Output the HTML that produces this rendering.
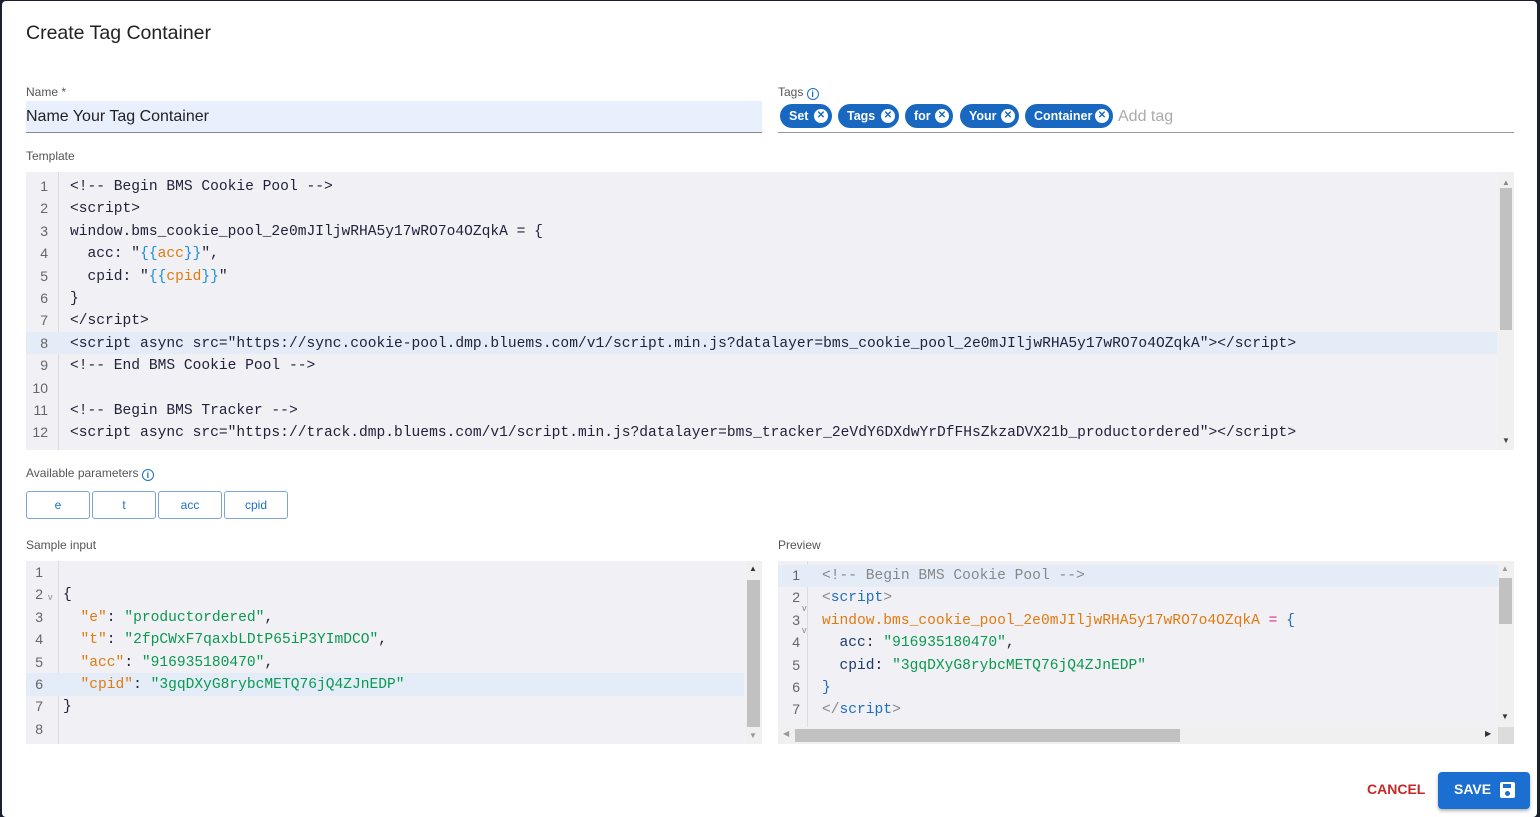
<!DOCTYPE html>
<html><head><meta charset="utf-8"><style>
*{box-sizing:border-box;margin:0;padding:0}
body{width:1540px;height:817px;background:#1b1f2e;position:relative;overflow:hidden;font-family:"Liberation Sans",Arial,sans-serif}
.dlg{position:absolute;left:2px;top:1px;width:1535px;height:816px;background:#fff;border-radius:4px}
.a{position:absolute}
.lbl{font-size:12px;color:#555}
.ed{position:absolute;background:#f0f0f5;overflow:hidden}
.gut{position:absolute;left:0;top:0;bottom:0;border-right:1px solid #dcdce2}
.ln{position:absolute;font-size:14px;color:#666;text-align:right}
.cl{position:absolute;font-family:"Liberation Mono",monospace;font-size:14.6px;white-space:pre;color:#22223a;line-height:22.4px}
.act{position:absolute;background:#e4ecf8}
.o{color:#e07b10}.b{color:#1a8fd6}.g{color:#0a9950}.gr{color:#888}.t{color:#1f6fbf}.p{color:#d63384}.n{color:#1d3b70}
.chip{position:absolute;top:104px;height:24px;background:#1867c0;border-radius:12px;color:#fff;font-size:12.5px;font-weight:bold;line-height:24px;padding-left:9px}
.chip i{position:absolute;right:4px;top:5px;width:14px;height:14px;border-radius:7px;background:#fff;color:#1867c0;font-style:normal;font-size:10px;line-height:14px;text-align:center}
.pb{position:absolute;top:491px;width:64px;height:28px;border:1px solid #7aa6d9;border-radius:3px;color:#1d6fc0;font-size:12px;text-align:center;line-height:26px}
.info{display:inline-block;width:12px;height:12px;border:1px solid #1d6fc0;border-radius:6px;color:#1d6fc0;font-size:9px;line-height:10px;text-align:center;vertical-align:-1px;font-weight:bold}
</style></head><body>
<div class="dlg"></div>
<div class="a" style="left:26px;top:22px;font-size:19.5px;color:#222">Create Tag Container</div>

<div class="a lbl" style="left:26px;top:85px">Name *</div>
<div class="a" style="left:26px;top:101px;width:736px;height:32px;background:#e8f0fe;border-bottom:1px solid #888"></div>
<div class="a" style="left:26px;top:108px;font-size:16px;color:#222">Name Your Tag Container</div>

<div class="a lbl" style="left:778px;top:85px">Tags <span class="info">i</span></div>
<div class="chip" style="left:780px;width:52px">Set<i>✕</i></div>
<div class="chip" style="left:838px;width:61px">Tags<i>✕</i></div>
<div class="chip" style="left:905px;width:48px">for<i>✕</i></div>
<div class="chip" style="left:960px;width:59px">Your<i>✕</i></div>
<div class="chip" style="left:1025px;width:88px">Container<i>✕</i></div>
<div class="a" style="left:1118px;top:108px;font-size:16px;color:#aaa">Add tag</div>
<div class="a" style="left:778px;top:132px;width:736px;height:1px;background:#999"></div>

<div class="a lbl" style="left:26px;top:149px">Template</div>
<div class="ed" style="left:26px;top:172px;width:1488px;height:278px">
 <div class="gut" style="width:33px"></div>
 <div class="act" style="left:0;top:160px;width:1471px;height:22px"></div>
 <div class="ln" style="left:0;width:22px;top:3px;line-height:22.4px">1<br>2<br>3<br>4<br>5<br>6<br>7<br>8<br>9<br>10<br>11<br>12</div>
 <div class="cl" style="left:44px;top:4px">&lt;!-- Begin BMS Cookie Pool --&gt;
&lt;script&gt;
window.bms_cookie_pool_2e0mJIljwRHA5y17wRO7o4OZqkA = {
  acc: "<span class="b">{{</span><span class="o">acc</span><span class="b">}}</span>",
  cpid: "<span class="b">{{</span><span class="o">cpid</span><span class="b">}}</span>"
}
&lt;/script&gt;
&lt;script async src="https://sync.cookie-pool.dmp.bluems.com/v1/script.min.js?datalayer=bms_cookie_pool_2e0mJIljwRHA5y17wRO7o4OZqkA"&gt;&lt;/script&gt;
&lt;!-- End BMS Cookie Pool --&gt;

&lt;!-- Begin BMS Tracker --&gt;
&lt;script async src="https://track.dmp.bluems.com/v1/script.min.js?datalayer=bms_tracker_2eVdY6DXdwYrDfFHsZkzaDVX21b_productordered"&gt;&lt;/script&gt;</div>
 <div class="a" style="left:1472px;top:0;width:16px;height:278px;background:#f0f0f0"></div>
 <div class="a" style="left:1474px;top:16px;width:12px;height:142px;background:#c1c1c1"></div>
 <div class="a" style="left:1476px;top:6px;font-size:8px;color:#888">▲</div>
 <div class="a" style="left:1476px;top:264px;font-size:8px;color:#444">▼</div>
</div>

<div class="a lbl" style="left:26px;top:466px">Available parameters <span class="info">i</span></div>
<div class="pb" style="left:26px">e</div>
<div class="pb" style="left:92px">t</div>
<div class="pb" style="left:158px">acc</div>
<div class="pb" style="left:224px">cpid</div>

<div class="a lbl" style="left:26px;top:538px">Sample input</div>
<div class="ed" style="left:26px;top:561px;width:736px;height:183px">
 <div class="gut" style="width:33px"></div>
 <div class="act" style="left:0;top:112px;width:718px;height:23px"></div>
 <div class="ln" style="left:0;width:17px;top:0px;line-height:22.4px">1<br>2<br>3<br>4<br>5<br>6<br>7<br>8</div>
 <div class="a" style="left:22px;top:31px;font-size:9px;color:#888">v</div>
 <div class="cl" style="left:37px;top:1px">
{
  <span class="o">"e"</span>: <span class="g">"productordered"</span>,
  <span class="o">"t"</span>: <span class="g">"2fpCWxF7qaxbLDtP65iP3YImDCO"</span>,
  <span class="o">"acc"</span>: <span class="g">"916935180470"</span>,
  <span class="o">"cpid"</span>: <span class="g">"3gqDXyG8rybcMETQ76jQ4ZJnEDP"</span>
}
</div>
 <div class="a" style="left:720px;top:0;width:16px;height:183px;background:#f0f0f0"></div>
 <div class="a" style="left:721px;top:19px;width:13px;height:147px;background:#c1c1c1"></div>
 <div class="a" style="left:723px;top:3px;font-size:8px;color:#333">▲</div>
 <div class="a" style="left:723px;top:170px;font-size:8px;color:#999">▼</div>
</div>

<div class="a lbl" style="left:778px;top:538px">Preview</div>
<div class="ed" style="left:778px;top:561px;width:736px;height:183px">
 <div class="gut" style="width:30px"></div>
 <div class="act" style="left:0;top:4px;width:720px;height:22px"></div>
 <div class="ln" style="left:0;width:22px;top:3px;line-height:22.4px">1<br>2<br>3<br>4<br>5<br>6<br>7</div>
 <div class="a" style="left:24px;top:36px;font-size:9px;color:#888;line-height:22.4px">v<br>v</div>
 <div class="cl" style="left:44px;top:4px"><span class="gr">&lt;!-- Begin BMS Cookie Pool --&gt;</span>
<span class="gr">&lt;</span><span class="t">script</span><span class="gr">&gt;</span>
<span class="o">window.bms_cookie_pool_2e0mJIljwRHA5y17wRO7o4OZqkA</span> <span class="p">=</span> <span class="t">{</span>
  <span class="n">acc</span>: <span class="g">"916935180470"</span>,
  <span class="n">cpid</span>: <span class="g">"3gqDXyG8rybcMETQ76jQ4ZJnEDP"</span>
<span class="t">}</span>
<span class="gr">&lt;/</span><span class="t">script</span><span class="gr">&gt;</span></div>
 <div class="a" style="left:0;top:166px;width:736px;height:17px;background:#f0f0f0"></div>
 <div class="a" style="left:17px;top:168px;width:385px;height:13px;background:#c1c1c1"></div>
 <div class="a" style="left:5px;top:168px;font-size:8px;color:#999">◀</div>
 <div class="a" style="left:707px;top:168px;font-size:8px;color:#333">▶</div>
 <div class="a" style="left:720px;top:166px;width:16px;height:17px;background:#dcdcdc"></div>
 <div class="a" style="left:720px;top:0;width:16px;height:166px;background:#f0f0f0"></div>
 <div class="a" style="left:721px;top:17px;width:13px;height:46px;background:#c1c1c1"></div>
 <div class="a" style="left:723px;top:3px;font-size:8px;color:#999">▲</div>
 <div class="a" style="left:723px;top:151px;font-size:8px;color:#333">▼</div>
</div>

<div class="a" style="left:1367px;top:781px;font-size:14px;font-weight:bold;color:#c62828">CANCEL</div>
<div class="a" style="left:1438px;top:772px;width:92px;height:37px;background:#1a6fd1;border-radius:4px;box-shadow:0 2px 3px rgba(0,0,0,.3)"></div>
<div class="a" style="left:1454px;top:781px;font-size:14px;font-weight:bold;color:#fff">SAVE</div>
<div class="a" style="left:1500px;top:782px;width:15px;height:16px;background:#fff;border-radius:2px"></div>
<div class="a" style="left:1503px;top:784px;width:8px;height:4px;background:#1a6fd1"></div>
<div class="a" style="left:1505px;top:791px;width:5px;height:5px;border-radius:3px;background:#1a6fd1"></div>
</body></html>
